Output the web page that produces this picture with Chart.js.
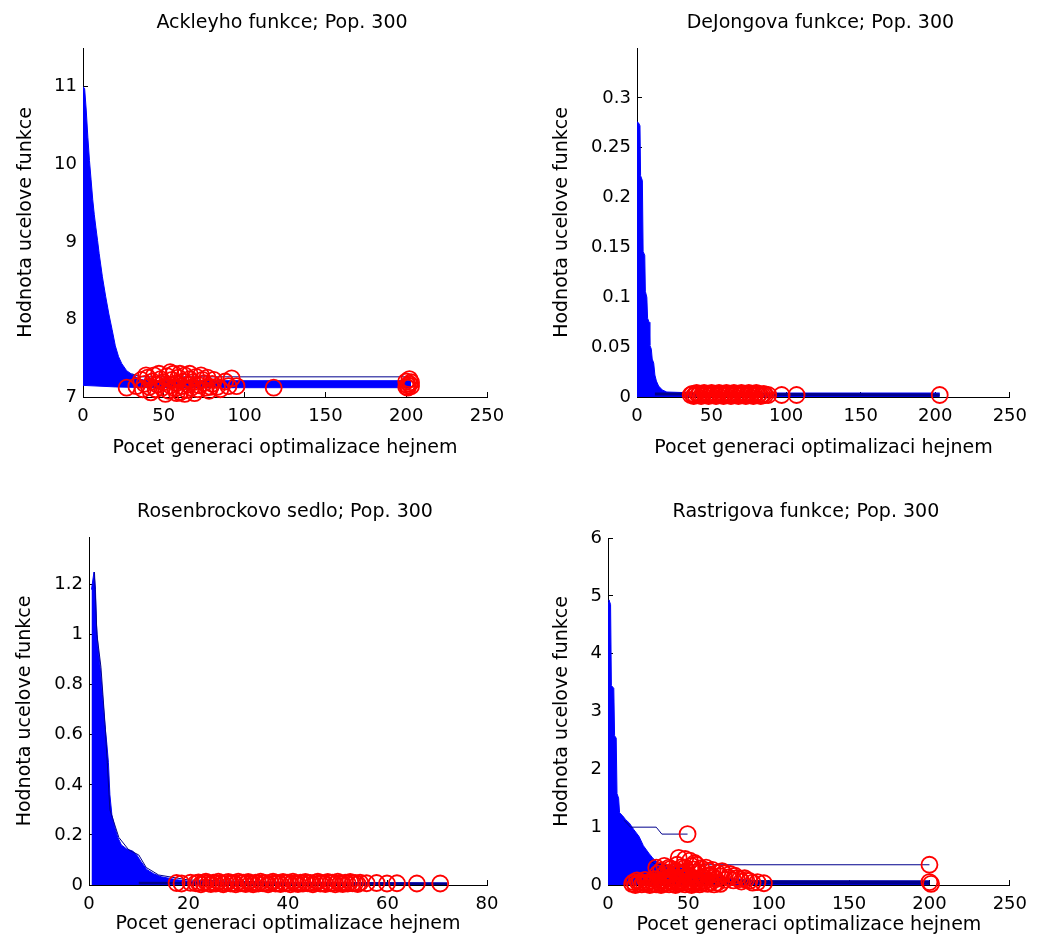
<!DOCTYPE html>
<html>
<head>
<meta charset="utf-8">
<script src="https://cdn.jsdelivr.net/npm/chart.js@4.4.1/dist/chart.umd.min.js"></script>
<style>
  html, body { margin: 0; padding: 0; background: #fff; }
  #wrap { position: relative; width: 1041px; height: 947px; }
  canvas { position: absolute; }
</style>
</head>
<body>
<div id="wrap">
  <canvas id="ackley" width="520" height="470" style="left:0;top:0"></canvas>
  <canvas id="dejong" width="521" height="470" style="left:520px;top:0"></canvas>
  <canvas id="rosen" width="520" height="477" style="left:0;top:470px"></canvas>
  <canvas id="rast" width="521" height="477" style="left:520px;top:470px"></canvas>
</div>
<script>
// --- DATA ---
const yLabel = 'Hodnota ucelove funkce';
const xLabelSwarm = 'Pocet generaci optimalizace hejnem';
const xLabelSwarm2 = 'Pocet generaci optimalizaci hejnem';

// Ackley
const ackleyXTicks = [0, 50, 100, 150, 200, 250];
const ackleyYTicks = [7, 8, 9, 10, 11];
const ackleyEnvelope = [[0,11.0],[1,10.98],[2,10.7],[3,10.35],[4,10.05],[5,9.8],[6,9.55],[7,9.35],[8,9.18],[9,9.02],[10,8.85],[12,8.55],[14,8.3],[16,8.07],[18,7.87],[20,7.66],[22,7.52],[24,7.43],[27,7.34],[31,7.28],[35,7.23],[40,7.21],[203,7.21]];
const ackleyFloor = [[0,7.15],[20,7.13],[40,7.12],[203,7.12]];
const ackleyLine = [[30,7.3],[36,7.26],[203,7.26]];
const ackleyEnds = [[27,7.12],[33,7.14],[36,7.22],[37,7.1],[38,7.17],[39,7.28],[40,7.25],[41,7.13],[42,7.06],[43,7.2],[44,7.28],[45,7.1],[46,7.16],[47,7.3],[48,7.23],[49,7.12],[50,7.19],[51,7.04],[52,7.27],[53,7.08],[54,7.15],[54,7.32],[55,7.22],[56,7.3],[57,7.11],[58,7.18],[58,7.05],[59,7.25],[60,7.06],[60,7.3],[61,7.14],[62,7.2],[63,7.28],[63,7.04],[64,7.09],[65,7.16],[66,7.23],[66,7.3],[67,7.12],[68,7.19],[69,7.05],[70,7.26],[71,7.1],[72,7.15],[73,7.28],[74,7.22],[75,7.18],[76,7.12],[77,7.25],[78,7.08],[79,7.13],[80,7.17],[81,7.22],[83,7.13],[85,7.1],[88,7.2],[90,7.14],[92,7.24],[95,7.14],[118,7.12],[200,7.13],[201,7.15],[202,7.17],[203,7.14],[200,7.2],[202,7.23],[201,7.12],[203,7.19]];

// DeJong
const dejongXTicks = [0, 50, 100, 150, 200, 250];
const dejongYTicks = [0, 0.05, 0.1, 0.15, 0.2, 0.25, 0.3];
const dejongEnvelope = [[0,0.276],[1,0.275],[2,0.272],[2.4,0.222],[3.6,0.217],[4.1,0.146],[5.2,0.142],[5.6,0.106],[6.6,0.1],[7.1,0.079],[8.1,0.075],[8.6,0.052],[9.6,0.048],[10.2,0.038],[11.2,0.034],[12,0.022],[13,0.016],[14.5,0.011],[17,0.007],[20,0.005],[40,0.004],[203,0.004]];
const dejongLine = [[12,0.003],[203,0.002]];
const dejongEnds = [[36,0.002],[37,0.003],[38,0.001],[39,0.002],[40,0.004],[41,0.002],[42,0.003],[43,0.001],[44,0.002],[45,0.004],[46,0.002],[47,0.003],[48,0.001],[49,0.002],[50,0.004],[51,0.002],[52,0.003],[53,0.001],[54,0.002],[55,0.004],[56,0.002],[57,0.003],[58,0.001],[59,0.002],[60,0.004],[61,0.002],[62,0.003],[63,0.001],[64,0.002],[65,0.004],[66,0.002],[67,0.003],[68,0.001],[69,0.002],[70,0.004],[71,0.002],[72,0.003],[73,0.001],[74,0.002],[75,0.004],[76,0.002],[77,0.003],[78,0.001],[79,0.002],[80,0.004],[81,0.002],[82,0.003],[83,0.001],[84,0.002],[85,0.003],[86,0.002],[88,0.002],[97,0.002],[107,0.002],[203,0.002]];

// Rosenbrock
const rosenXTicks = [0, 20, 40, 60, 80];
const rosenYTicks = [0, 0.2, 0.4, 0.6, 0.8, 1, 1.2];
const rosenEnvelope = [[0.5,1.18],[1,1.25],[1.3,1.18],[1.5,1.04],[1.8,0.95],[2.2,0.88],[2.7,0.76],[3.2,0.64],[3.6,0.56],[3.9,0.49],[4.2,0.36],[4.6,0.28],[5.2,0.23],[5.8,0.19],[6.5,0.16],[7.5,0.145],[8.8,0.135],[9.6,0.12],[10.4,0.095],[11.6,0.062],[13,0.045],[14.5,0.033],[17.6,0.021],[20,0.015],[30,0.011],[72,0.008]];
const rosenLine = [[1.1,1.25],[1.6,1.0],[2.4,0.87],[3.3,0.62],[4.2,0.3],[6,0.19],[8,0.14],[10,0.12],[11.5,0.07],[14,0.04],[20,0.02],[40,0.01],[72,0.006]];
const rosenBase = [[10,0.008],[72,0.005]];
const rosenEnds = [[17.6,0.008],[18.6,0.006],[20.4,0.009],
  [21.5,0.007],[22,0.01],[22.5,0.003],[23,0.009],[23.5,0.013],[24,0.007],[24.5,0.004],[25,0.009],[25.5,0.006],[26,0.013],[26.5,0.007],[27,0.003],[27.5,0.009],[28,0.012],[28.5,0.006],[29,0.008],[29.5,0.003],[30,0.013],[30.5,0.007],[31,0.009],[31.5,0.004],[32,0.012],[32.5,0.007],[33,0.003],[33.5,0.009],[34,0.006],[34.5,0.013],[35,0.007],[35.5,0.008],[36,0.003],[36.5,0.009],[37,0.013],[37.5,0.006],[38,0.008],[38.5,0.004],[39,0.012],[39.5,0.007],[40,0.009],[40.5,0.003],[41,0.013],[41.5,0.007],[42,0.004],[42.5,0.009],[43,0.006],[43.5,0.012],[44,0.007],[44.5,0.008],[45,0.003],[45.5,0.009],[46,0.013],[46.5,0.006],[47,0.008],[47.5,0.004],[48,0.012],[48.5,0.007],[49,0.009],[49.5,0.003],[50,0.013],[50.5,0.007],[51,0.004],[51.5,0.009],[52,0.006],[52.5,0.012],[53,0.007],[53.5,0.008],[54,0.004],[54.5,0.009],
  [55.8,0.007],[57.8,0.008],[59.9,0.006],[61.9,0.007],[65.9,0.006],[70.6,0.006]];

// Rastrigin
const rastXTicks = [0, 50, 100, 150, 200, 250];
const rastYTicks = [0, 1, 2, 3, 4, 5, 6];
const rastEnvelope = [[0,4.88],[0.6,4.93],[1.6,4.85],[2.1,3.45],[3.6,3.4],[4.1,2.58],[5.1,2.54],[5.6,1.58],[6.6,1.5],[7.2,1.25],[9,1.2],[11,1.13],[13.3,1.07],[16,0.96],[19.3,0.84],[22,0.68],[25.4,0.55],[28,0.46],[31.4,0.38],[40,0.33],[50,0.27],[60,0.2],[75,0.12],[90,0.08],[100,0.07],[200,0.07]];
const rastLineA = [[10,1.12],[14,1.0],[30,1.0],[33.5,0.88],[49.5,0.88]];
const rastLineB = [[26,0.42],[30,0.35],[200,0.35]];
const rastBase = [[22,0.05],[200,0.045]];
const rastEnds = [[49.5,0.88],[200,0.35],[200,0.05],[201,0.02],[44,0.47],[48,0.45],[51,0.42],[54,0.38],
  [15,0.02],[16,0.05],[17,0.0],[18,0.08],[19,0.03],[20,0.06],[21,0.01],[22,0.04],[23,0.09],[24,0.02],[25,0.05],[26,0.0],[27,0.07],[28,0.03],[29,0.1],[30,0.01],[31,0.06],[32,0.04],[33,0.0],[34,0.08],[35,0.02],[36,0.05],[37,0.11],[38,0.01],[39,0.06],[40,0.03],[41,0.09],[42,0.0],[43,0.05],[44,0.02],[45,0.07],[46,0.04],[47,0.1],[48,0.01],[49,0.06],[50,0.03],[51,0.08],[52,0.0],[53,0.05],[54,0.02],[55,0.07],[56,0.04],[57,0.01],[58,0.06],[59,0.03],[60,0.08],[62,0.02],[64,0.05],[66,0.01],[68,0.04],[70,0.02],
  [30,0.3],[31,0.2],[33,0.25],[34,0.15],[35,0.33],[36,0.22],[37,0.18],[38,0.3],[39,0.28],[40,0.14],[41,0.12],[42,0.25],[43,0.35],[44,0.19],[45,0.22],[46,0.31],[47,0.13],[48,0.3],[49,0.24],[50,0.17],[51,0.15],[52,0.33],[53,0.27],[54,0.11],[55,0.35],[56,0.23],[57,0.2],[58,0.29],[59,0.14],[60,0.12],[61,0.3],[62,0.25],[63,0.16],[64,0.18],[65,0.26],[66,0.13],[67,0.1],[68,0.21],[70,0.15],[71,0.24],[72,0.2],[73,0.09],[75,0.13],[76,0.19],[78,0.08],[79,0.16],[80,0.12],[82,0.1],[83,0.06],[85,0.12],[86,0.09],[88,0.07],[90,0.04],[93,0.05],[97,0.03]];

// --- STYLE HELPERS ---
const FONT = "'DejaVu Sans', 'Liberation Sans', sans-serif";
Chart.defaults.font.family = FONT;
Chart.defaults.color = '#000';

const BLUE = '#0000ff';
const NAVY = '#00008c';
const TITLE_SIZE = 19, TICK_SIZE = 18;
const TITLE_LH = TITLE_SIZE * 1.2;

function ends(data) {
  return { data, showLine: false, clip: false, pointStyle: 'circle', pointRadius: 8,
           pointBorderWidth: 1.8, pointBorderColor: '#ff0000', pointBackgroundColor: 'rgba(0,0,0,0)' };
}
function line(data, color, width) {
  return { data, showLine: true, pointRadius: 0, borderColor: color, borderWidth: width, fill: false };
}
function mass(data, fill) {
  return { data, showLine: true, pointRadius: 0, borderColor: BLUE, borderWidth: 1,
           backgroundColor: BLUE, fill };
}
function fmt(v) { return String(Math.round(v * 1000) / 1000); }

// panel title centred over the plot area, like MATLAB does
const plotTitle = {
  id: 'plotTitle',
  afterDraw(chart, args, opts) {
    const { ctx, chartArea } = chart;
    ctx.save();
    ctx.font = TITLE_SIZE + 'px ' + FONT;
    ctx.fillStyle = '#000';
    ctx.textAlign = 'center';
    ctx.textBaseline = 'middle';
    ctx.fillText(opts.text, (chartArea.left + chartArea.right) / 2 - 3, opts.y);
    ctx.restore();
  }
};

function panel(id, p) {
  const canvas = document.getElementById(id);
  const W = canvas.width, H = canvas.height;
  const a = p.area;
  const axis = (ticks, min, max, title, titlePad) => ({
    type: 'linear', min, max,
    afterBuildTicks: s => { s.ticks = ticks.map(v => ({ value: v })); },
    grid: { drawOnChartArea: false, drawTicks: true, tickLength: -5, color: '#000', lineWidth: 1 },
    border: { display: true, color: '#000', width: 1 },
    title: { display: true, text: title, font: { size: TITLE_SIZE }, padding: titlePad },
    ticks: { font: { size: TICK_SIZE }, color: '#000', maxRotation: 0, autoSkip: false, callback: fmt }
  });
  const x = axis(p.xTicks, p.xMin, p.xMax, p.xTitle, { top: 0, bottom: p.xTitleOff - TITLE_LH / 2 });
  x.ticks.padding = 14;
  x.afterFit = s => { s.height = H - a.bottom; };
  const y = axis(p.yTicks, p.yMin, p.yMax, yLabel, { top: p.yTitleX - TITLE_LH / 2, bottom: 0 });
  y.ticks.padding = 11;
  y.afterFit = s => { s.width = a.left; };

  return new Chart(canvas, {
    type: 'scatter',
    data: { datasets: p.datasets },
    plugins: [plotTitle],
    options: {
      responsive: false, animation: false, events: [],
      layout: { padding: { left: 0, top: a.top, bottom: 0, right: W - a.right } },
      plugins: {
        legend: { display: false }, tooltip: { enabled: false }, title: { display: false },
        plotTitle: { text: p.title, y: p.titleY }
      },
      scales: { x, y }
    }
  });
}

panel('ackley', {
  title: 'Ackleyho funkce; Pop. 300', titleY: 23, xTitle: xLabelSwarm,
  area: { left: 83, right: 487, top: 48, bottom: 397 }, yTitleX: 26, xTitleOff: 22,
  xTicks: ackleyXTicks, xMin: 0, xMax: 250, yTicks: ackleyYTicks, yMin: 7, yMax: 11.5,
  datasets: [ends(ackleyEnds), line(ackleyLine, NAVY, 1), mass(ackleyEnvelope, '+1'), line(ackleyFloor, BLUE, 1)]
});

panel('dejong', {
  title: 'DeJongova funkce; Pop. 300', titleY: 23, xTitle: xLabelSwarm2,
  area: { left: 117, right: 502, top: 48, bottom: 397 }, yTitleX: 42, xTitleOff: 22,
  xTicks: dejongXTicks, xMin: 0, xMax: 250, yTicks: dejongYTicks, yMin: 0, yMax: 0.35,
  datasets: [ends(dejongEnds), line(dejongLine, NAVY, 3), mass(dejongEnvelope, 'origin')]
});

panel('rosen', {
  title: 'Rosenbrockovo sedlo; Pop. 300', titleY: 42, xTitle: xLabelSwarm,
  area: { left: 89, right: 487, top: 67, bottom: 415 }, yTitleX: 25, xTitleOff: 23,
  xTicks: rosenXTicks, xMin: 0, xMax: 80, yTicks: rosenYTicks, yMin: 0, yMax: 1.39,
  datasets: [ends(rosenEnds), line(rosenBase, NAVY, 2.5), line(rosenLine, NAVY, 1), mass(rosenEnvelope, 'origin')]
});

panel('rast', {
  title: 'Rastrigova funkce; Pop. 300', titleY: 42, xTitle: xLabelSwarm,
  area: { left: 88, right: 502, top: 68, bottom: 415 }, yTitleX: 42, xTitleOff: 22,
  xTicks: rastXTicks, xMin: 0, xMax: 250, yTicks: rastYTicks, yMin: 0, yMax: 6,
  datasets: [ends(rastEnds), line(rastLineA, NAVY, 1), line(rastLineB, NAVY, 1), line(rastBase, NAVY, 4), mass(rastEnvelope, 'origin')]
});
</script>
</body>
</html>
